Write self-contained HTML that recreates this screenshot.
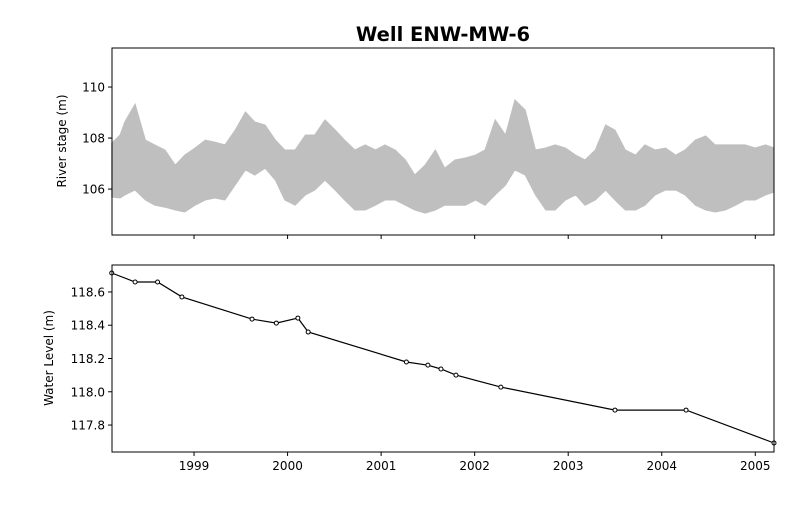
<!DOCTYPE html>
<html><head><meta charset="utf-8"><style>
body{margin:0;background:#fff}
svg text{font-family:"DejaVu Sans","Liberation Sans",sans-serif;font-size:12px;fill:#000}
</style></head><body>
<svg id="chart" width="800" height="500" xmlns="http://www.w3.org/2000/svg">
<rect width="800" height="500" fill="#fff"/>
<text x="443" y="41" text-anchor="middle" style="font-size:19.5px;font-weight:bold">Well ENW-MW-6</text>
<g id="topPanel"></g>
<g id="botPanel"></g>
</svg>
<script>
const stageDates=[1998.12,1998.21,1998.26,1998.37,1998.48,1998.58,1998.69,1998.80,1998.90,1999.01,1999.12,1999.22,1999.33,1999.44,1999.55,1999.65,1999.76,1999.87,1999.97,2000.08,2000.19,2000.29,2000.40,2000.51,2000.61,2000.72,2000.83,2000.94,2001.04,2001.15,2001.26,2001.36,2001.47,2001.58,2001.68,2001.79,2001.90,2002.01,2002.11,2002.22,2002.33,2002.43,2002.54,2002.65,2002.76,2002.86,2002.97,2003.08,2003.18,2003.29,2003.40,2003.50,2003.61,2003.72,2003.82,2003.93,2004.04,2004.15,2004.25,2004.36,2004.47,2004.57,2004.68,2004.79,2004.89,2005.00,2005.11,2005.20];
const stageHigh=[107.80,108.12,108.63,109.33,107.92,107.73,107.53,106.94,107.33,107.61,107.92,107.84,107.73,108.31,109.02,108.63,108.51,107.92,107.53,107.53,108.12,108.12,108.71,108.31,107.92,107.53,107.73,107.53,107.73,107.53,107.14,106.55,106.94,107.53,106.82,107.14,107.22,107.33,107.53,108.71,108.12,109.49,109.10,107.53,107.61,107.73,107.61,107.33,107.14,107.53,108.51,108.31,107.53,107.33,107.73,107.53,107.61,107.33,107.53,107.92,108.08,107.73,107.73,107.73,107.73,107.61,107.73,107.61];
const stageLow=[105.69,105.65,105.77,105.96,105.57,105.37,105.29,105.18,105.10,105.37,105.57,105.65,105.57,106.16,106.75,106.55,106.82,106.35,105.57,105.37,105.77,105.96,106.35,105.96,105.57,105.18,105.18,105.37,105.57,105.57,105.37,105.18,105.06,105.18,105.37,105.37,105.37,105.57,105.37,105.77,106.16,106.75,106.55,105.77,105.18,105.18,105.57,105.77,105.37,105.57,105.96,105.57,105.18,105.18,105.37,105.77,105.96,105.96,105.77,105.37,105.18,105.10,105.18,105.37,105.57,105.57,105.77,105.88];
const wlDates=[1998.12,1998.37,1998.61,1998.87,1999.62,1999.88,2000.11,2000.22,2001.27,2001.50,2001.64,2001.80,2002.28,2003.50,2004.26,2005.20];
const wlValues=[118.714,118.660,118.660,118.570,118.437,118.413,118.443,118.359,118.179,118.160,118.137,118.100,118.028,117.890,117.890,117.692];
const yearTicks=[1999,2000,2001,2002,2003,2004,2005];
const stageTicks=[106,108,110];
const wlTicks=[117.8,118.0,118.2,118.4,118.6];

const NS="http://www.w3.org/2000/svg";
const L=112,R=774;
const xS=t=>L+(t-1998.123)/(2005.2-1998.123)*(R-L);
function mk(tag,attrs,parent){const e=document.createElementNS(NS,tag);for(const k in attrs)e.setAttribute(k,attrs[k]);parent.appendChild(e);return e;}
function yTop(v){return 48+(111.53-v)/(111.53-104.2)*187;}
function yBot(v){return 265+(118.762-v)/(118.762-117.638)*187;}
const topG=document.getElementById('topPanel'),botG=document.getElementById('botPanel');

let pts=[];
for(let i=0;i<stageDates.length;i++)pts.push(xS(stageDates[i]).toFixed(1)+','+yTop(stageHigh[i]).toFixed(1));
for(let i=stageDates.length-1;i>=0;i--)pts.push(xS(stageDates[i]).toFixed(1)+','+yTop(stageLow[i]).toFixed(1));
const poly=mk('polygon',{points:pts.join(' '),fill:'#bfbfbf',stroke:'#bfbfbf','stroke-width':1},topG);



const line=mk('polyline',{points:wlDates.map((d,i)=>xS(d).toFixed(1)+','+yBot(wlValues[i]).toFixed(1)).join(' '),fill:'none',stroke:'#000','stroke-width':1.2},botG);


wlDates.forEach((d,i)=>{
  const c=mk('circle',{cx:xS(d),cy:yBot(wlValues[i]),r:2,fill:'#fff',stroke:'#000','stroke-width':1},botG);
  
  
});

const f1=mk('rect',{x:L,y:48,width:R-L,height:187,fill:'none',stroke:'#000','stroke-width':1},topG);


const f2=mk('rect',{x:L,y:265,width:R-L,height:187,fill:'none',stroke:'#000','stroke-width':1},botG);



yearTicks.forEach(t=>{
  const x=xS(t);
  mk('line',{x1:x,x2:x,y1:235,y2:239,stroke:'#000'},topG);
  mk('line',{x1:x,x2:x,y1:452,y2:456,stroke:'#000'},botG);
  const tx=mk('text',{x:x,y:470,'text-anchor':'middle'},botG);
  tx.textContent=t;
  
  
});
stageTicks.forEach(v=>{
  const y=yTop(v);
  mk('line',{x1:L-4,x2:L,y1:y,y2:y,stroke:'#000'},topG);
  const tx=mk('text',{x:L-7,y:y+4.5,'text-anchor':'end'},topG);
  tx.textContent=v;
  
  
});
wlTicks.forEach(v=>{
  const y=yBot(v);
  mk('line',{x1:L-4,x2:L,y1:y,y2:y,stroke:'#000'},botG);
  const tx=mk('text',{x:L-7,y:y+4.5,'text-anchor':'end'},botG);
  tx.textContent=v.toFixed(1);
  
  
});
const t1=mk('text',{transform:'translate(66,141) rotate(-90)','text-anchor':'middle'},topG);
t1.textContent='River stage (m)';


const t2=mk('text',{transform:'translate(53,358) rotate(-90)','text-anchor':'middle'},botG);
t2.textContent='Water Level (m)';


</script>
</body></html>
